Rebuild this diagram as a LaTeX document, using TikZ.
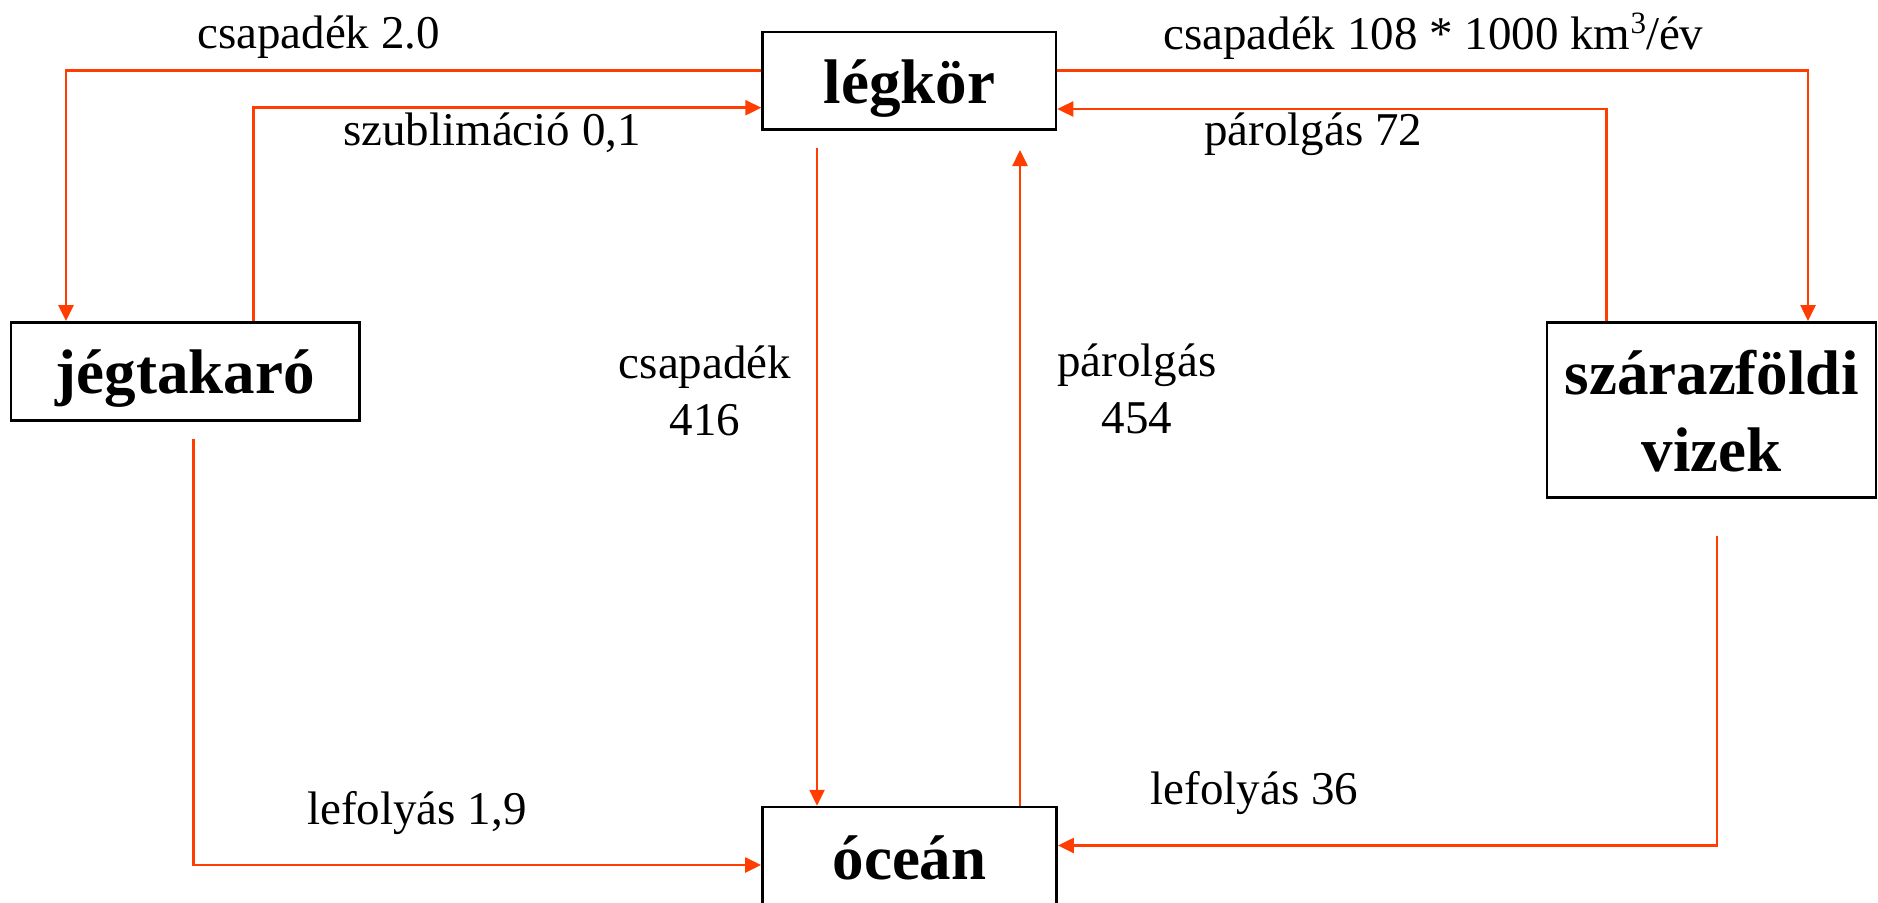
\documentclass[tikz,border=0pt]{standalone}
\usepackage{fontspec}
\setmainfont{Liberation Serif}
\usetikzlibrary{arrows.meta}
\definecolor{flowred}{HTML}{FF3D00}
\newcommand{\cubesup}{\raisebox{16pt}{\fontsize{31}{31}\selectfont 3}}
\begin{document}
\begin{tikzpicture}[x=1pt,y=-1pt,
  box/.style={draw=black, line width=2.5pt, inner sep=0pt,
    font=\fontsize{63}{77}\selectfont\bfseries},
  oneline/.style={text height=46pt, text depth=0pt},
  flow/.style={draw=flowred, line width=2.5pt,
    -{Triangle[length=16pt,width=15pt]}},
  lbl/.style={inner sep=0pt, font=\fontsize{47}{57}\selectfont}]
\useasboundingbox (0,0) rectangle (1878,902);
\clip (0,0) rectangle (1878,902);

% reservoirs
\node[box, oneline, minimum width=293.4pt, minimum height=97.6pt] (legkor) at (909.3,80.6) {légkör};
\node[box, text height=44pt, text depth=0pt, minimum width=348.9pt, minimum height=98.4pt] (jeg) at (185.2,371.5) {jégtakaró};
\node[box, align=center, text height=123.8pt, text depth=0pt, minimum width=329pt, minimum height=175pt] (szaraz) at (1711.5,409.8) {szárazföldi\\vizek};
\node[box, oneline, minimum width=294.4pt, minimum height=98pt] (ocean) at (909.5,856) {óceán};

% bends and free ends of the flows
\coordinate (pA) at (66,70.7);
\coordinate (pB) at (253.5,107.7);
\coordinate (pC) at (1808,70.7);
\coordinate (pD) at (1606.5,109);
\coordinate (p416) at (817,148.3);
\coordinate (p454) at (1020,150);
\coordinate (pE) at (193.6,439.3);
\coordinate (qE) at (193.6,865);
\coordinate (pF) at (1717,536);
\coordinate (qF) at (1717,845.5);

% flows
\draw[flow] (legkor.west |- pA) -- (pA) -- (jeg.north -| pA);
\draw[flow] (jeg.north -| pB) -- (pB) -- (legkor.west |- pB);
\draw[flow] (legkor.east |- pC) -- (pC) -- (szaraz.north -| pC);
\draw[flow] (szaraz.north -| pD) -- (pD) -- (legkor.east |- pD);
\draw[flow] (p416) -- (ocean.north -| p416);
\draw[flow] (ocean.north -| p454) -- (p454);
\draw[flow] (pE) -- (qE) -- (ocean.west |- qE);
\draw[flow] (pF) -- (qF) -- (ocean.east |- qF);

% flow labels
\node[lbl, anchor=base west] (l20) at (197,48.5) {csapadék 2.0};
\node[lbl, anchor=base west] (lsub) at (343,145) {szublimáció 0,1};
\node[lbl, anchor=base west] (l108) at (1163,49) {csapadék 108 * 1000 km\cubesup/év};
\node[lbl, anchor=base west] (l72) at (1204,145) {párolgás 72};
\node[lbl, anchor=base, align=center] (l416) at (705,435) {csapadék\\416};
\node[lbl, anchor=base, align=center] (l454) at (1137,433) {párolgás\\454};
\node[lbl, anchor=base west] (l19) at (307,824) {lefolyás 1,9};
\node[lbl, anchor=base west] (l36) at (1150.6,804) {lefolyás 36};
\end{tikzpicture}
\end{document}
